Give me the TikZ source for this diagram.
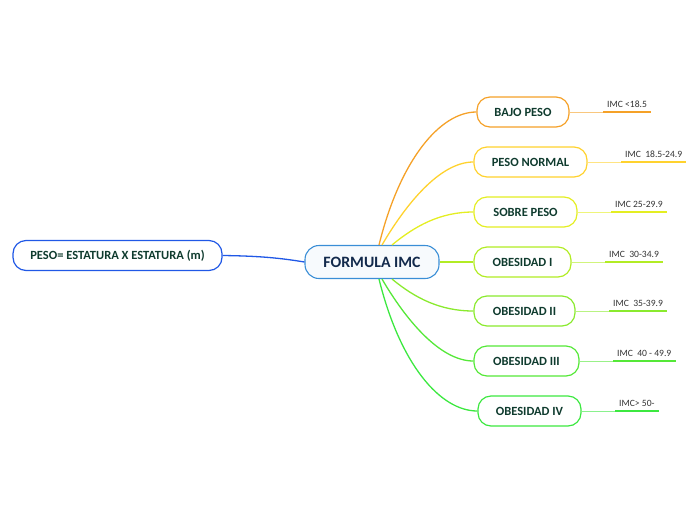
\documentclass[tikz,border=0pt]{standalone}
\usepackage{fontspec}
\setmainfont{Carlito}
\usetikzlibrary{positioning,calc}

\definecolor{cbajo}{HTML}{F5A128}
\definecolor{cnormal}{HTML}{FFD22E}
\definecolor{csobre}{HTML}{E4EE22}
\definecolor{cobi}{HTML}{B2EC24}
\definecolor{cobii}{HTML}{8AEA2E}
\definecolor{cobiii}{HTML}{55E838}
\definecolor{cobiv}{HTML}{3CE840}
\definecolor{ccentral}{HTML}{3A8ED6}
\definecolor{cformula}{HTML}{2058E6}
\definecolor{textgreen}{HTML}{0F3B2E}
\definecolor{textnavy}{HTML}{132A4C}

\begin{document}
\begin{tikzpicture}[x=1pt, y=-1pt,
    central/.style={draw=ccentral, fill=ccentral!4, rounded corners=14pt, line width=1.1pt, minimum width=134pt, minimum height=33pt, font=\fontsize{15.8}{18}\selectfont\bfseries\color{textnavy}},
    topic/.style={draw=#1, fill=white, rounded corners=13pt, line width=1.2pt, minimum height=30pt, inner sep=0pt, font=\fontsize{12.5}{14}\selectfont\bfseries\color{textgreen}},
    imclabel/.style={inner xsep=4pt, inner ysep=4pt, font=\fontsize{9.6}{11}\selectfont\color{black!80}},
    branch/.style={line width=1.3pt},
    link/.style={line width=0.6pt},
    uline/.style={line width=2pt}
]
    \useasboundingbox (0,0) rectangle (696,520);

    % Central topic and formula
    \node[central] (imc) at (372,262) {FORMULA IMC};
    \node[topic=cformula, minimum width=209pt] (formula) at (117.5,255.5) {PESO= ESTATURA X ESTATURA (m)};
    \draw[branch, cformula] (formula.east) .. controls (260,256) and (280,258) .. (imc.west);

    % Categories with their ranges
    \foreach \nm/\txt/\cx/\cy/\bw/\col/\lbl/\ux in {
        bajo/BAJO PESO/523/112/92/cbajo/{IMC <18.5}/603,
        normal/PESO NORMAL/530.5/162/113/cnormal/{IMC \ 18.5-24.9}/621,
        sobre/SOBRE PESO/525.5/212/103/csobre/{IMC 25-29.9}/611,
        obi/OBESIDAD I/522.5/262/97/cobi/{IMC \ 30-34.9}/605,
        obii/OBESIDAD II/524.5/311/101/cobii/{IMC \ 35-39.9}/609,
        obiii/OBESIDAD III/526.5/361/105/cobiii/{IMC \ 40 - 49.9}/613,
        obiv/OBESIDAD IV/529.5/411/103/cobiv/{IMC> 50-}/615} {
        \node[topic=\col, minimum width=\bw pt] (\nm) at (\cx,\cy) {\txt};
        \node[imclabel, anchor=south west] (\nm-l) at (\ux,\cy) {\lbl};
        \draw[link, \col!60] (\nm.east) -- (\nm-l.south west);
        \draw[uline, \col] (\nm-l.south west) -- (\nm-l.south east);
    }

    % Branches
    \draw[branch, cbajo] ([xshift=7pt]imc.north) .. controls (400,160) and (440,112) .. (bajo.west);
    \draw[branch, cnormal] ([xshift=10pt]imc.north) .. controls (406,204) and (440,162) .. (normal.west);
    \draw[branch, csobre] ([xshift=20pt]imc.north) .. controls (415,226) and (440,212) .. (sobre.west);
    \draw[branch, cobi] (imc.east) -- (obi.west);
    \draw[branch, cobii] ([xshift=20pt]imc.south) .. controls (415,298) and (440,311) .. (obii.west);
    \draw[branch, cobiii] ([xshift=10pt]imc.south) .. controls (406,320) and (440,361) .. (obiii.west);
    \draw[branch, cobiv] ([xshift=7pt]imc.south) .. controls (400,364) and (440,411) .. (obiv.west);

\end{tikzpicture}
\end{document}
